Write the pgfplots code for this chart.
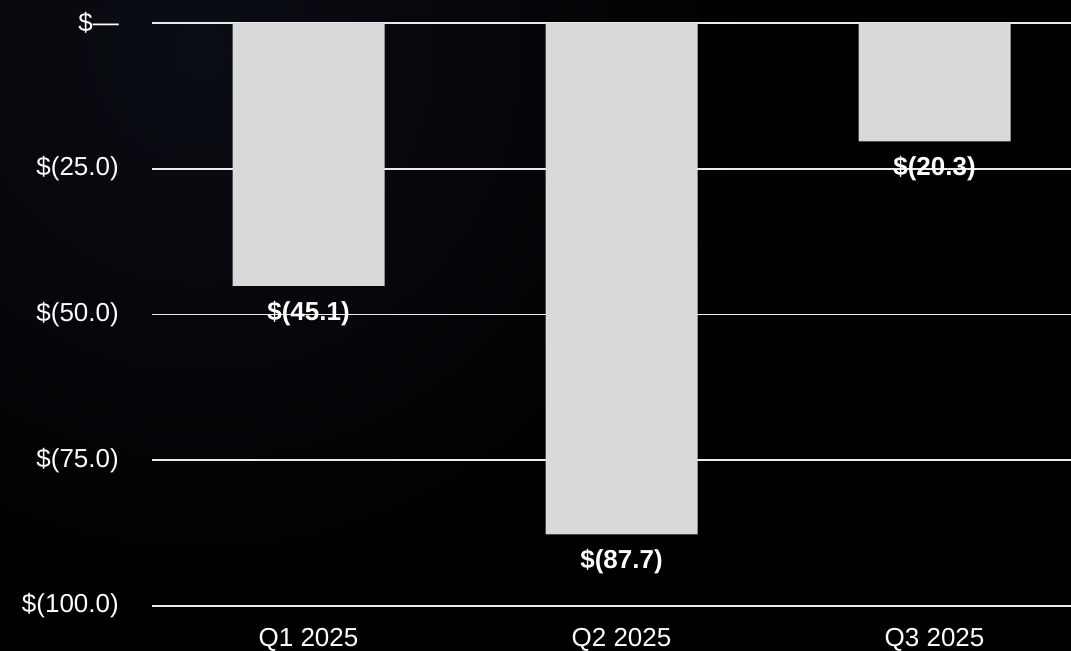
\documentclass[border=0pt]{standalone}
\usepackage{fontspec}
\setmainfont{Liberation Sans}
\usepackage{pgfplots}
\pgfplotsset{compat=1.18}
\definecolor{barfill}{RGB}{217,217,217}
\definecolor{navy}{RGB}{11,13,21}
\begin{document}
\begin{tikzpicture}
\fill[black] (0,0) rectangle (1071bp,651bp);
\begin{scope}
\clip (0,0) rectangle (1071bp,651bp);
\shade[inner color=navy, outer color=black] (200bp,600bp) circle (560bp);
\end{scope}
\useasboundingbox (0,0) rectangle (1071bp,651bp);
\begin{axis}[
  at={(152bp,45bp)}, anchor=south west,
  scale only axis, width=919bp, height=583bp,
  xmin=-0.5, xmax=2.436, ymin=-100, ymax=0,
  axis line style={draw=none},
  major tick length=0pt,
  ymajorgrids,
  grid style={white!92!black, line width=1.6bp},
  ytick={-100,-75,-50,-25,0},
  yticklabels={\$(100.0),\$(75.0),\$(50.0),\$(25.0),\$\textemdash},
  xtick={0,1,2},
  xticklabels={Q1 2025,Q2 2025,Q3 2025},
  ticklabel style={font=\fontsize{26bp}{31bp}\selectfont, text=white},
  yticklabel style={anchor=east, inner sep=0pt, xshift=-33bp},
  xticklabel style={anchor=north, inner sep=0pt, yshift=-22bp},
  clip=false,
]
\addplot[ybar, bar width=152bp, fill=barfill, draw=none,
  nodes near coords, point meta=explicit symbolic,
  nodes near coords style={font=\bfseries\fontsize{26bp}{31bp}\selectfont, text=white, anchor=north, inner sep=0pt, yshift=-15bp}]
  coordinates {(0,-45.1) [\$(45.1)] (1,-87.7) [\$(87.7)] (2,-20.3) [\$(20.3)]};
\end{axis}
\end{tikzpicture}
\end{document}
